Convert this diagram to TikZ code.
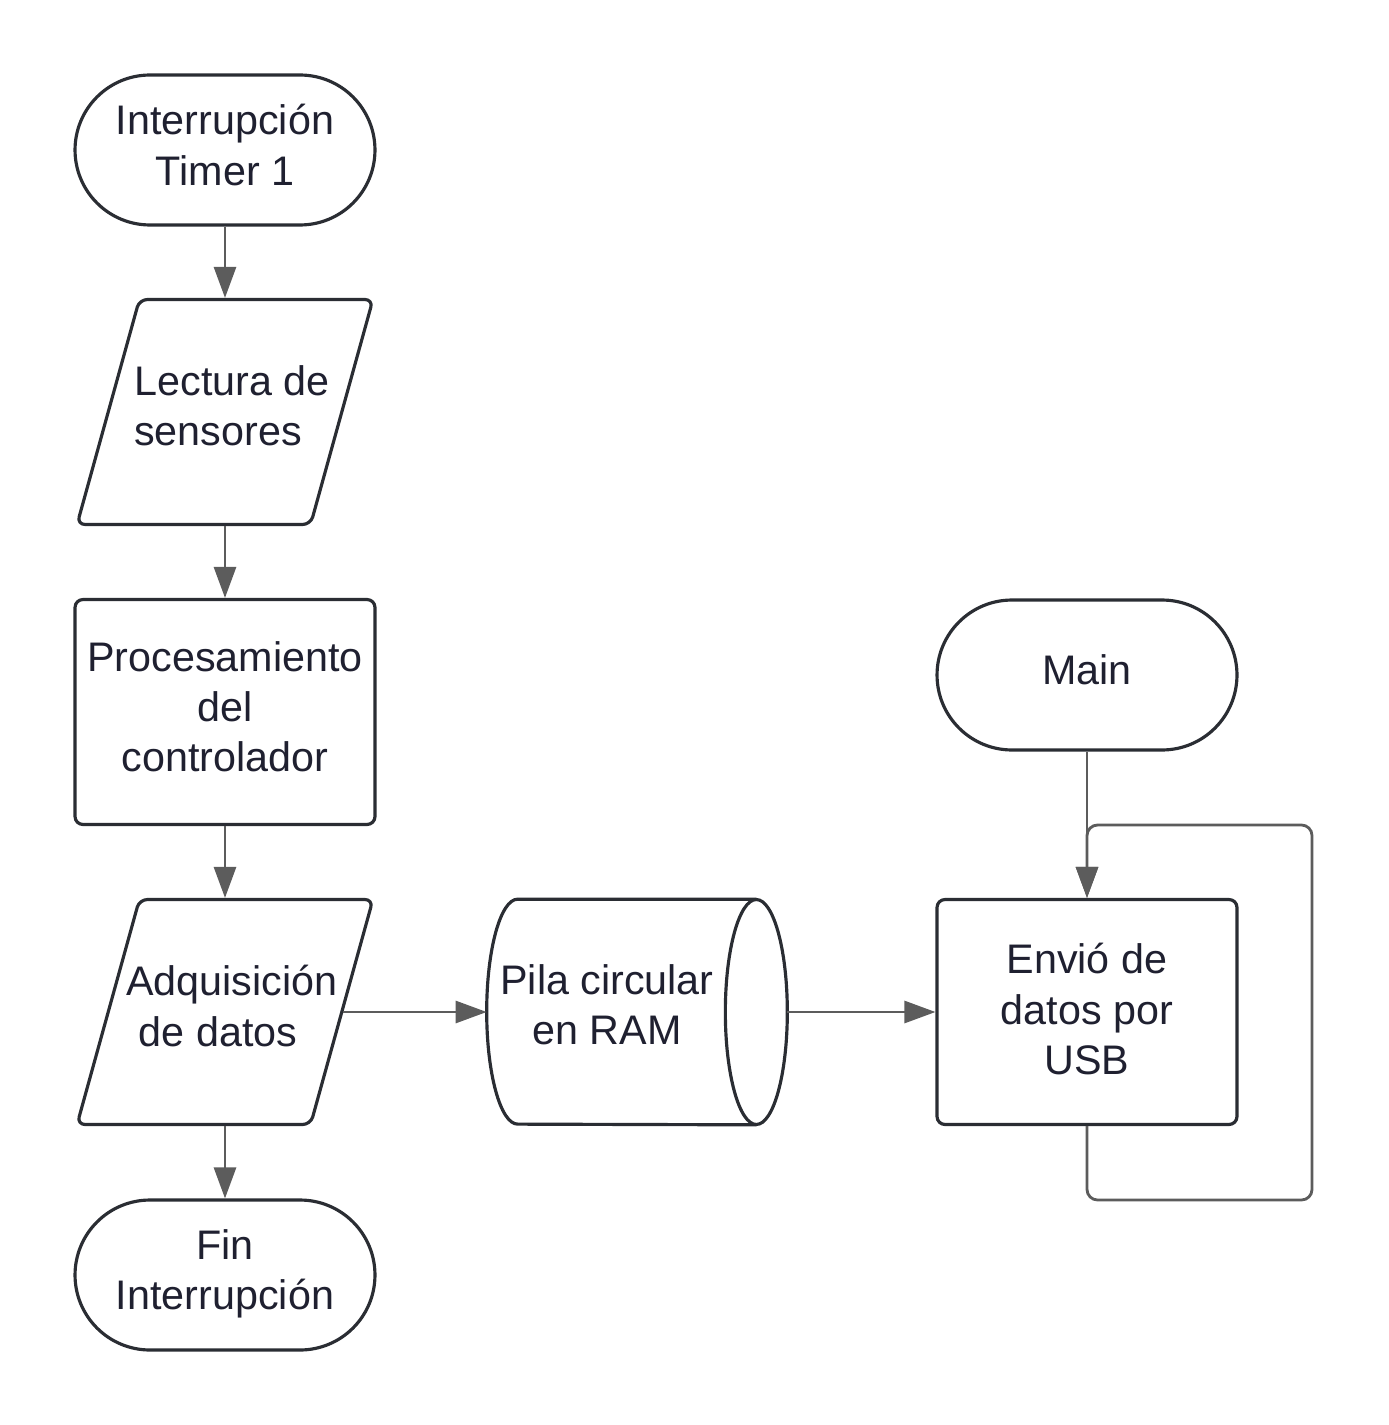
\documentclass[tikz,border=0pt]{standalone}
\usepackage{fontspec}
\setmainfont{Liberation Sans}
\usepackage{tikz}
\usetikzlibrary{positioning,arrows.meta,shapes.geometric,calc}
\definecolor{LineDark}{HTML}{2A2D33}
\definecolor{ArrowGray}{HTML}{5C5C5C}
\definecolor{TextDark}{HTML}{1F2030}

\tikzset{
  base/.style={draw=LineDark, line width=1.8pt, fill=white},
  txt/.style={text=TextDark, align=center, font=\fontsize{23.5}{28.5}\selectfont},
  terminal/.style={base, rectangle, rounded corners=1.5cm,
    minimum width=6cm, minimum height=3cm},
  process/.style={base, rectangle, rounded corners=4.5pt,
    minimum width=6cm, minimum height=4.5cm},
  inout/.style={base, trapezium, trapezium left angle=70, trapezium right angle=110,
    trapezium stretches=true, rounded corners=4.5pt,
    minimum width=5.92cm, minimum height=4.5cm},
  storage/.style={rectangle, minimum width=6cm, minimum height=4.5cm},
  flow/.style={draw=ArrowGray, line width=1.6pt,
    -{Triangle[length=0.62cm,width=0.44cm]}},
}

\begin{document}
\begin{tikzpicture}[x=0.02cm, y=-0.02cm]
  \useasboundingbox (0,0) rectangle (1388,1425);

  % left column
  \node[terminal, label={[txt,yshift=0.1cm]center:{Interrupción\\Timer 1}}]
    (start) at (225,150) {};
  \node[inout, label={[txt,yshift=0.12cm]center:{\hspace*{0.28cm}Lectura de\\sensores\hspace*{0.28cm}}}]
    (lectura) at (225,412) {};
  \node[process, label={[txt,yshift=0.1cm]center:{Procesamiento\\del\\controlador}}]
    (proc) at (225,712) {};
  \node[inout, label={[txt,yshift=0.12cm]center:{\hspace*{0.28cm}Adquisición\\de datos\hspace*{0.28cm}}}]
    (adq) at (225,1012) {};
  \node[terminal, label={[txt,yshift=0.02cm]center:{Fin\\Interrupción}}]
    (fin) at (225,1275) {};

  % buffer drawn as a lying cylinder
  \node[storage] (pila) at (637,1012) {};
  \draw[base] ($(pila.north east)+(-31,0)$) -- ($(pila.north west)+(31,0)$)
    arc[start angle=90, end angle=270, x radius=0.62cm, y radius=2.25cm]
    -- ($(pila.south east)+(-31,0)$);
  \draw[base] ($(pila.east)+(-31,0)$) ellipse [x radius=0.62cm, y radius=2.25cm];
  \node[txt] (pilatxt) at (607,1005) {Pila circular\\en RAM};

  % main loop
  \node[terminal, label={[txt,yshift=0.1cm]center:Main}] (main) at (1087,675) {};
  \node[process, label={[txt,yshift=0.06cm]center:{Envió de\\datos por\\USB}}]
    (envio) at (1087,1012) {};

  \coordinate (loopA) at (1087,1200);
  \coordinate (loopB) at (1312,1200);
  \coordinate (loopC) at (1312,825);
  \coordinate (loopD) at (1087,825);

  \draw[flow] (start) -- (lectura);
  \draw[flow] (lectura) -- (proc);
  \draw[flow] (proc) -- (adq);
  \draw[flow] (adq) -- (fin);
  \draw[flow] (adq.east) -- (pila.west);
  \draw[flow] (pila.east) -- (envio.west);
  \draw[flow] (main) -- (envio);
  \draw[flow, rounded corners=6pt] (envio.south) -- (loopA) -- (loopB)
    -- (loopC) -- (loopD) -- (envio.north);
\end{tikzpicture}
\end{document}
